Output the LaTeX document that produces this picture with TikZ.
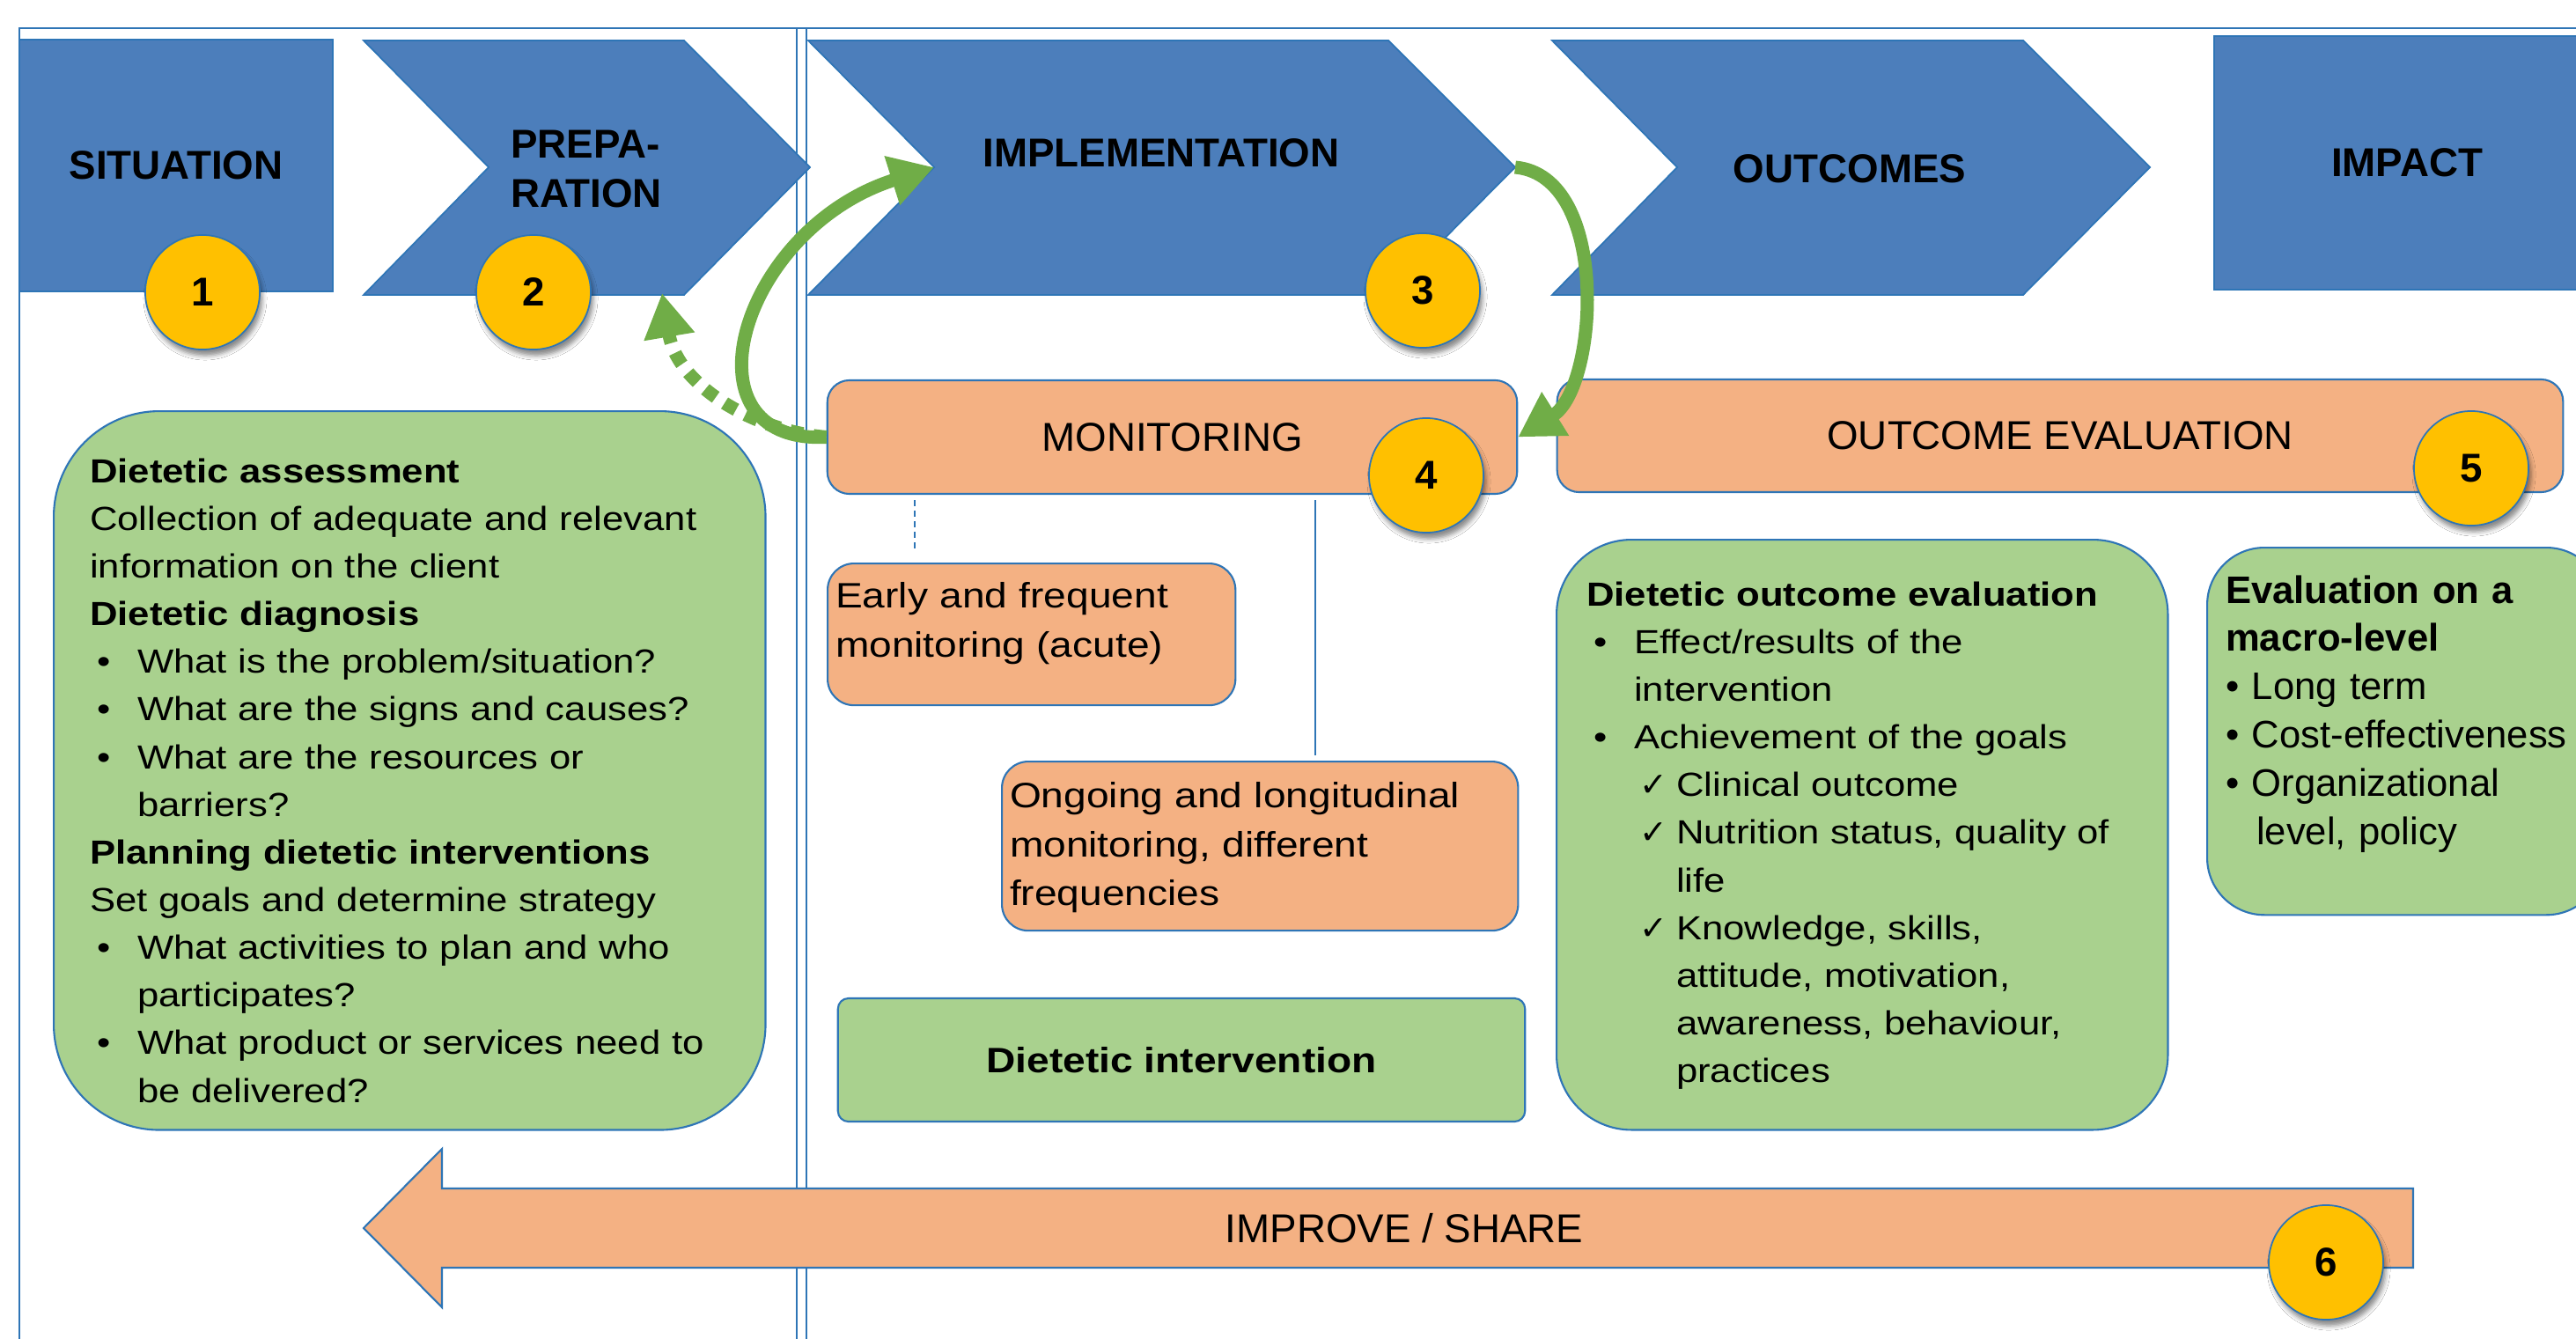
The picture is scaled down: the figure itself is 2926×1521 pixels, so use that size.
\documentclass[tikz,border=0pt]{standalone}
\usepackage{fontspec}
\setmainfont{Liberation Sans}
\newfontfamily\bodyfont{Liberation Sans}[FakeStretch=1.15]
\newfontfamily\symfont{DejaVu Sans}
\usetikzlibrary{arrows.meta,shadows.blur}

\definecolor{stageblue}{RGB}{76,126,187}
\definecolor{rimblue}{RGB}{46,117,182}
\definecolor{peach}{RGB}{244,177,131}
\definecolor{leaf}{RGB}{169,209,142}
\definecolor{arrowgreen}{RGB}{112,173,71}
\definecolor{gold}{RGB}{255,192,0}

\newcommand{\bul}{\hspace*{0.08cm}\makebox[0.46cm][l]{\textbullet}}
\newcommand{\chk}{\hspace*{0.6cm}\makebox[0.42cm][l]{\symfont ✓}}
\newcommand{\hang}{\hspace*{0.54cm}}
\newcommand{\hangchk}{\hspace*{1.02cm}}

\begin{document}
\begin{tikzpicture}[x=0.01cm, y=-0.01cm,
  stage/.style = {fill=stageblue, draw=rimblue, line width=0.5pt},
  stagelabel/.style = {inner sep=0, align=left, font=\bfseries\fontsize{13}{15.9}\selectfont},
  capslabel/.style = {font=\fontsize{13}{15}\selectfont},
  peachbox/.style = {fill=peach, draw=rimblue, line width=0.6pt, rounded corners=0.25cm},
  leafbox/.style = {fill=leaf, draw=rimblue, line width=0.6pt},
  textbox/.style = {anchor=north west, align=left, inner ysep=0},
  badge/.style = {circle, fill=gold, draw=rimblue, line width=0.5pt, minimum size=1.3cm, inner sep=0,
    font=\bfseries\fontsize{13}{15}\selectfont,
    blur shadow={shadow xshift=0.03cm, shadow yshift=-0.07cm, shadow blur radius=0.05cm, shadow opacity=45}},
  frame/.style = {draw=rimblue, line width=0.8pt},
  linkline/.style = {draw=rimblue, line width=0.5pt},
  cycleflow/.style = {draw=arrowgreen, line width=0.15cm, -{Triangle[length=0.5cm, width=0.55cm]}}]

\useasboundingbox (0,0) rectangle (2926,1521);
\fill[white] (0,0) rectangle (2926,1521);
\clip (0,0) rectangle (2926,1521);

\draw[frame] (22,1540) -- (22,32) -- (2960,32);
\draw[frame] (905,32) -- (905,1540);
\draw[frame] (916,32) -- (916,1540);

\node[stage, stagelabel, minimum width=3.56cm, minimum height=2.86cm] (sit) at (200,188) {SITUATION};
\path[stage] (413,46) -- (777,46) -- (920,190) -- (777,335) -- (413,335) -- (555,190) -- cycle;
\node[stagelabel] (prep) at (666,192) {PREPA-\\RATION};
\path[stage] (918,46) -- (1577,46) -- (1721,190) -- (1577,335) -- (918,335) -- (1061,190) -- cycle;
\node[stagelabel] (impl) at (1319,174) {IMPLEMENTATION};
\path[stage] (1763,46) -- (2298,46) -- (2442,190) -- (2298,335) -- (1763,335) -- (1905,190) -- cycle;
\node[stagelabel] (outc) at (2101,192) {OUTCOMES};
\node[stage, stagelabel, minimum width=4.38cm, minimum height=2.88cm] (impact) at (2734,185) {IMPACT};
\coordinate (implnotch) at (1061,190);
\coordinate (impltip) at (1721,190);
\coordinate (prepfoot) at (752,333);

\node[peachbox, capslabel, minimum width=7.83cm, minimum height=1.29cm] (mon) at (1331.5,496.5) {MONITORING};
\node[peachbox, capslabel, minimum width=11.42cm, minimum height=1.28cm] (outeval) at (2340,495) {OUTCOME EVALUATION};

\node[peachbox, textbox, rounded corners=0.3cm, text width=4.45cm, inner xsep=0.09cm, text height=0.5cm, text depth=1.11cm,
  font=\bodyfont\fontsize{11.4}{15.9}\selectfont] (early) at (939,639) {Early and frequent\\monitoring (acute)};
\node[peachbox, textbox, rounded corners=0.3cm, text width=5.68cm, inner xsep=0.09cm, text height=0.52cm, text depth=1.40cm,
  font=\bodyfont\fontsize{11.4}{15.9}\selectfont] (ongoing) at (1137,864) {Ongoing and longitudinal\\monitoring, different\\frequencies};
\node[leafbox, rounded corners=0.12cm, minimum width=7.8cm, minimum height=1.4cm,
  font=\bodyfont\bfseries\fontsize{11.4}{14}\selectfont] (interv) at (1342,1204) {Dietetic intervention};

\node[leafbox, textbox, rounded corners=1.2cm, text width=7.26cm, inner xsep=0.41cm, text height=0.81cm, text depth=7.35cm,
  font=\bodyfont\fontsize{10.8}{15.4}\selectfont] (assess) at (60,466) {\textbf{Dietetic assessment}\\
Collection of adequate and relevant\\
information on the client\\
\textbf{Dietetic diagnosis}\\
\bul What is the problem/situation?\\
\bul What are the signs and causes?\\
\bul What are the resources or\\
\hang barriers?\\
\textbf{Planning dietetic interventions}\\
Set goals and determine strategy\\
\bul What activities to plan and who\\
\hang participates?\\
\bul What product or services need to\\
\hang be delivered?};

\node[leafbox, textbox, rounded corners=0.85cm, text width=6.26cm, inner xsep=0.34cm, text height=0.75cm, text depth=5.95cm,
  font=\bodyfont\fontsize{10.8}{15.4}\selectfont] (doe) at (1767,612) {\textbf{Dietetic outcome evaluation}\\
\bul Effect/results of the\\
\hang intervention\\
\bul Achievement of the goals\\
\chk Clinical outcome\\
\chk Nutrition status, quality of\\
\hangchk life\\
\chk Knowledge, skills,\\
\hangchk attitude, motivation,\\
\hangchk awareness, behaviour,\\
\hangchk practices};

\node[leafbox, textbox, rounded corners=0.65cm, text width=4.08cm, inner xsep=0.21cm, text height=0.63cm, text depth=3.54cm,
  font=\fontsize{12.4}{15.6}\selectfont] (macro) at (2506,621) {\textbf{Evaluation on a}\\
\textbf{macro-level}\\
\textbullet\ Long term\\
\textbullet\ Cost-effectiveness\\
\textbullet\ Organizational\\
\hspace*{0.35cm}level, policy};

\draw[linkline, dash pattern=on 0.07cm off 0.05cm, shorten <=0.06cm, shorten >=0.13cm]
  ([xshift=1cm]early.north west |- mon.south) -- ([xshift=1cm]early.north west);
\draw[linkline, shorten <=0.06cm, shorten >=0.06cm]
  ([xshift=3.57cm]ongoing.north west |- mon.south) -- ([xshift=3.57cm]ongoing.north west);

\path[fill=peach, draw=rimblue, line width=0.6pt] (413,1395) -- (502,1305) -- (502,1350) -- (2741,1350)
  -- (2741,1440) -- (502,1440) -- (502,1485) -- cycle;
\node[capslabel] (improve) at (1595,1395) {IMPROVE / SHARE};

\begin{scope}[cycleflow]
\draw[dash pattern=on 0.15cm off 0.12cm] (mon.west) .. controls (860,490) and (770,440) .. (prepfoot);
\draw (mon.west) .. controls (770,505) and (840,260) .. (implnotch);
\draw (impltip) .. controls (1830,200) and (1815,440) .. (mon.east);
\end{scope}

\node[badge] (c1) at (230,332) {1};
\node[badge] (c2) at (606,332) {2};
\node[badge] (c3) at (1616,330) {3};
\node[badge] (c4) at (1620,540) {4};
\node[badge] (c5) at (2807,532) {5};
\node[badge] (c6) at (2642,1434) {6};
\end{tikzpicture}
\end{document}
